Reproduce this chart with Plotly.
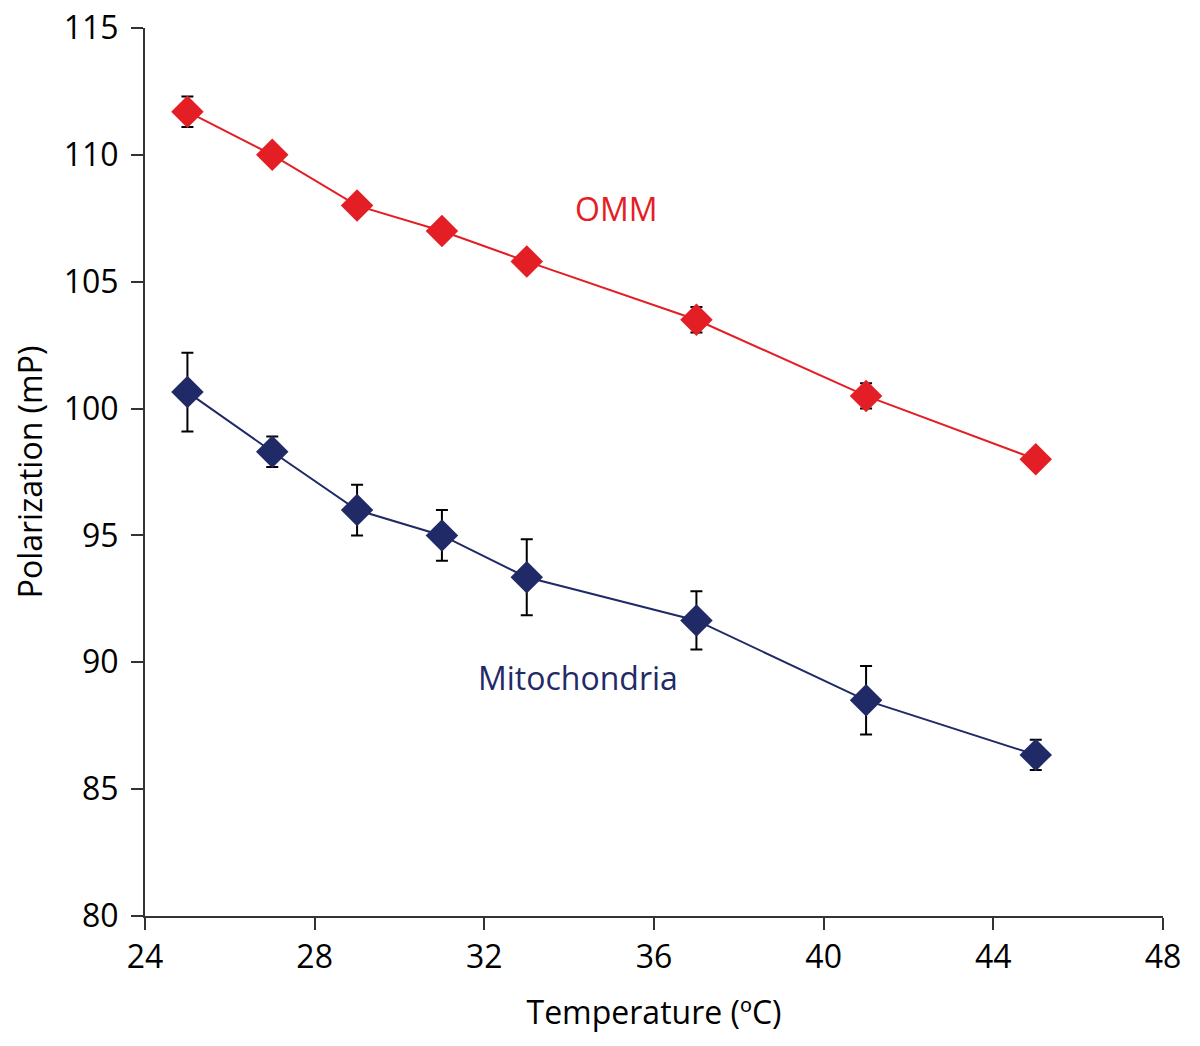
import plotly.graph_objects as go

temps = [25, 27, 29, 31, 33, 37, 41, 45]

omm = [111.7, 110.0, 108.0, 107.0, 105.8, 103.5, 100.5, 98.0]
omm_err = [0.6, 0.0, 0.0, 0.0, 0.0, 0.5, 0.5, 0.0]

mito = [100.65, 98.3, 96.0, 95.0, 93.35, 91.65, 88.5, 86.35]
mito_err = [1.55, 0.6, 1.0, 1.0, 1.5, 1.15, 1.35, 0.6]

x_ticks = [24, 28, 32, 36, 40, 44, 48]
y_ticks = [80, 85, 90, 95, 100, 105, 110, 115]

RED = "#e31e24"
NAVY = "#1f2a66"
AXIS = "#333333"
FONT = "Open Sans, sans-serif"

fig = go.Figure()

for name, vals, errs, color in [
    ("Mitochondria", mito, mito_err, NAVY),
    ("OMM", omm, omm_err, RED),
]:
    fig.add_trace(
        go.Scatter(
            x=temps,
            y=vals,
            name=name,
            mode="lines+markers",
            line=dict(color=color, width=2),
            marker=dict(symbol="diamond", size=25, color=color),
            error_y=dict(type="data", array=errs, color="black", thickness=2, width=6),
        )
    )

fig.add_annotation(x=35.1, y=107.9, text="OMM", showarrow=False,
                   font=dict(color=RED, size=32, family=FONT))
fig.add_annotation(x=34.2, y=89.4, text="Mitochondria", showarrow=False,
                   font=dict(color=NAVY, size=32, family=FONT))

axis_style = dict(
    ticks="outside",
    ticklen=12,
    tickwidth=2,
    tickcolor=AXIS,
    showline=True,
    linecolor=AXIS,
    linewidth=2,
    showgrid=False,
    zeroline=False,
    automargin=False,
    ticklabeloverflow="allow",
    tickfont=dict(size=32, family=FONT, color="black"),
)

fig.update_xaxes(
    range=[24, 48],
    tickvals=x_ticks,
    title=dict(text="Temperature (ºC)", font=dict(size=32, family=FONT), standoff=25),
    **axis_style,
)
fig.update_yaxes(
    range=[80, 115],
    tickvals=y_ticks,
    ticklabelstandoff=6,
    title=dict(text="Polarization (mP)", font=dict(size=32, family=FONT), standoff=18),
    **axis_style,
)

fig.update_layout(
    width=1184,
    height=1030,
    showlegend=False,
    paper_bgcolor="white",
    plot_bgcolor="white",
    font=dict(family=FONT, color="black"),
    margin=dict(l=137, r=29, t=20, b=122),
)

fig.write_html("out.html")
